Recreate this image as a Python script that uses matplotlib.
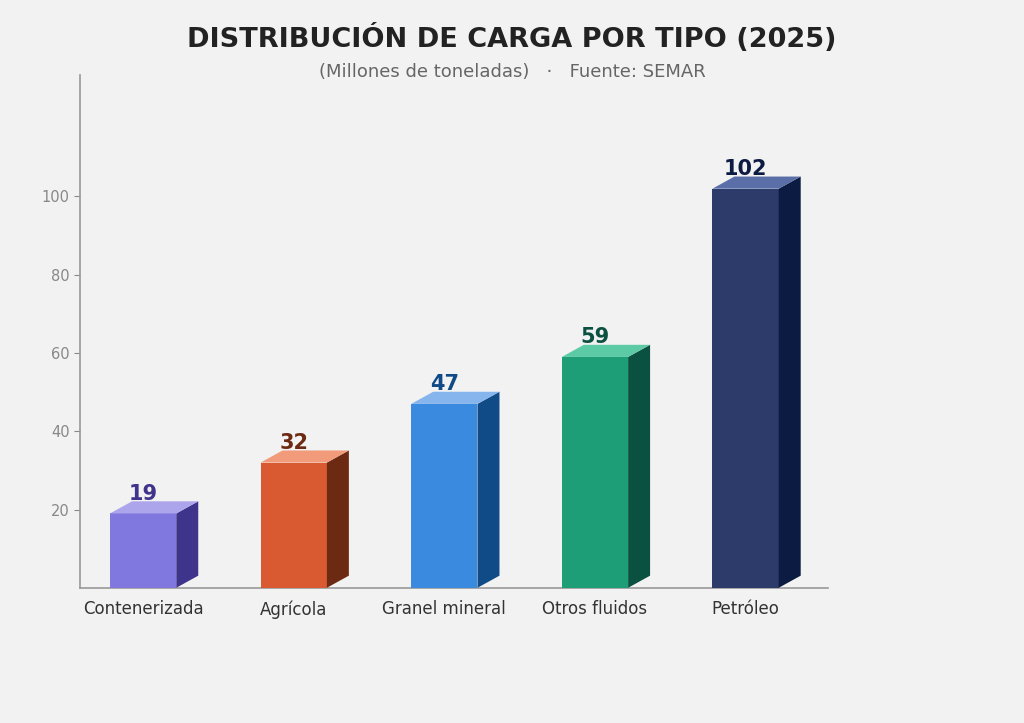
import numpy as np
import matplotlib
matplotlib.use('Agg')
import matplotlib.pyplot as plt

plt.rcParams['font.family'] = ['DejaVu Sans']

# datos (millones de toneladas)
categorias = ['Contenerizada', 'Agrícola', 'Granel mineral', 'Otros fluidos', 'Petróleo']
valores = [19, 32, 47, 59, 102]

# colores: frente, tapa, lado
c_frente = ['#8078de', '#d95a31', '#3a8ae0', '#1e9e76', '#2d3b6b']
c_tapa = ['#aca5ec', '#f29b7b', '#85b5ec', '#5ccaa4', '#5a6ea8']
c_lado = ['#3e348b', '#6d2a13', '#104b88', '#0a5141', '#0c1b41']

fondo = '#f2f2f2'
ancho = 0.44
dx, dy = 0.146, 3.1

fig = plt.figure(figsize=(10.24, 7.23), dpi=100, facecolor=fondo)
ax = fig.add_axes([0.078, 0.187, 0.731, 0.709])
ax.set_facecolor(fondo)

x = np.arange(len(categorias))
for xi, v, cf, ct, cl in zip(x, valores, c_frente, c_tapa, c_lado):
    x0, x1 = xi - ancho / 2, xi + ancho / 2
    # cara frontal
    ax.fill([x0, x1, x1, x0], [0, 0, v, v], color=cf, lw=0, zorder=3)
    # lado derecho
    ax.fill([x1, x1 + dx, x1 + dx, x1], [0, dy, v + dy, v], color=cl, lw=0, zorder=3)
    # tapa
    ax.fill([x0, x1, x1 + dx, x0 + dx], [v, v, v + dy, v + dy], color=ct, lw=0, zorder=3)
    ax.text(xi, v + dy - 0.6, f'{v}', ha='center', va='bottom', fontsize=15,
            fontweight='bold', color=cl, zorder=4)

ax.set_xlim(-0.42, 4.55)
ax.set_ylim(0, 131)
ax.set_xticks(x)
ax.set_xticklabels(categorias, fontsize=12, color='#333333')
ax.set_yticks([20, 40, 60, 80, 100])
ax.tick_params(axis='y', labelsize=10.5, colors='#888888', length=4)
ax.tick_params(axis='x', length=0, pad=9)

for s in ['top', 'right']:
    ax.spines[s].set_visible(False)
for s in ['left', 'bottom']:
    ax.spines[s].set_color('#999999')
    ax.spines[s].set_linewidth(1.2)

fig.text(0.5, 0.947, 'DISTRIBUCIÓN DE CARGA POR TIPO (2025)', ha='center', va='center',
         fontsize=19.5, fontweight='bold', color='#222222')
fig.text(0.5, 0.901, '(Millones de toneladas)   ·   Fuente: SEMAR', ha='center', va='center',
         fontsize=13, color='#666666')

fig.savefig('out.png', dpi=100, facecolor=fondo)
